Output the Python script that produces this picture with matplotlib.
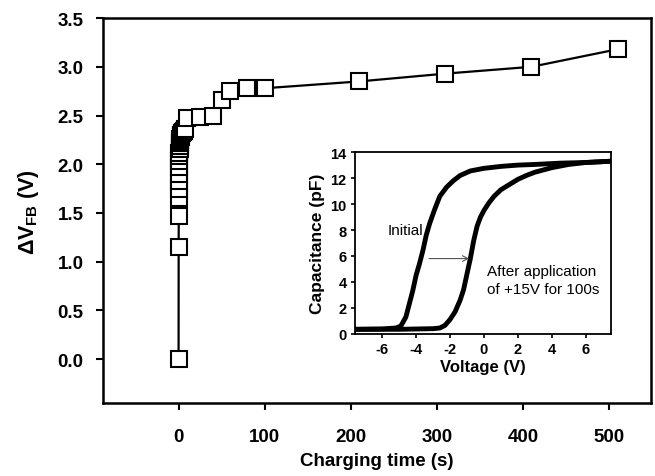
import matplotlib
matplotlib.use("Agg")
import matplotlib.pyplot as plt

plt.rcParams['font.family'] = ['Liberation Sans', 'DejaVu Sans']
plt.rcParams['font.weight'] = 'bold'
plt.rcParams['axes.unicode_minus'] = False
plt.rcParams['mathtext.fontset'] = 'custom'
plt.rcParams['mathtext.rm'] = 'Liberation Sans:bold'
plt.rcParams['mathtext.bf'] = 'Liberation Sans:bold'
plt.rcParams['mathtext.it'] = 'Liberation Sans:bold'

# charging time (s) and flat-band voltage shift (V)
charge_time = [0, 0.1, 0.2, 0.3, 0.4, 0.5, 0.6, 0.7, 0.8, 0.9, 1.0, 1.2, 1.4,
               1.6, 1.8, 2, 2.5, 3, 4, 5, 6, 8, 10, 25, 40, 50, 60, 80, 100,
               210, 310, 410, 510]
delta_vfb = [0, 1.15, 1.47, 1.65, 1.75, 1.83, 1.9, 1.97, 2.03, 2.08, 2.12,
             2.16, 2.19, 2.22, 2.24, 2.26, 2.28, 2.30, 2.32, 2.33, 2.34, 2.36,
             2.47, 2.48, 2.50, 2.66, 2.75, 2.78, 2.78, 2.85, 2.93, 3.00, 3.18]

# inset C-V curves
v_init = [-7.6, -6, -5.2, -4.9, -4.6, -4.4, -4.2, -4.0, -3.8, -3.6, -3.4, -3.2,
          -2.9, -2.6, -2.2, -1.8, -1.4, -0.8, 0, 1, 2, 3, 4.5, 6, 7.5]
c_init = [0.35, 0.38, 0.45, 0.6, 1.3, 2.3, 3.3, 4.5, 5.4, 6.4, 7.6, 8.5,
          9.6, 10.6, 11.3, 11.8, 12.2, 12.55, 12.75, 12.9, 13.0, 13.05, 13.15,
          13.2, 13.3]
v_after = [-7.6, -5, -3, -2.6, -2.3, -2.0, -1.7, -1.4, -1.2, -1.0, -0.8, -0.6,
           -0.4, -0.2, 0, 0.3, 0.6, 1.0, 1.5, 2, 2.5, 3, 4, 5, 6, 7.5]
c_after = [0.35, 0.35, 0.4, 0.45, 0.65, 1.1, 1.7, 2.6, 3.4, 4.6, 5.8, 7.2,
           8.3, 9.0, 9.5, 10.1, 10.6, 11.1, 11.5, 11.9, 12.2, 12.45, 12.8,
           13.05, 13.2, 13.3]

fig = plt.figure(figsize=(6.55, 4.77), dpi=100)
ax = fig.add_axes([0.157, 0.153, 0.837, 0.807])
ax.plot(charge_time, delta_vfb, color='black', lw=1.6, marker='s', ms=12,
        mfc='white', mec='black', mew=1.5)
ax.set_xlim(-88, 549)
ax.set_ylim(-0.45, 3.5)
ax.set_xticks([0, 100, 200, 300, 400, 500])
ax.set_yticks([0, 0.5, 1.0, 1.5, 2.0, 2.5, 3.0, 3.5])
ax.set_yticklabels(['0.0', '0.5', '1.0', '1.5', '2.0', '2.5', '3.0', '3.5'])
ax.tick_params(direction='out', length=5, width=1.5, labelsize=13.5, pad=9)
ax.tick_params(axis='x', pad=13)
for s in ax.spines.values():
    s.set_linewidth(1.8)
ax.set_xlabel('Charging time (s)', fontsize=13.5, fontweight='bold', labelpad=5)
ax.set_ylabel(r'$\Delta V_{FB}$ (V)', fontsize=15.5, fontweight='bold', labelpad=12)

ins = fig.add_axes([0.542, 0.298, 0.391, 0.381])
ins.plot(v_init, c_init, color='black', lw=3.5)
ins.plot(v_after, c_after, color='black', lw=3.5)
ins.set_xlim(-7.6, 7.5)
ins.set_ylim(0, 14)
ins.set_xticks([-6, -4, -2, 0, 2, 4, 6])
ins.set_yticks([0, 2, 4, 6, 8, 10, 12, 14])
ins.tick_params(direction='out', length=3, width=1.2, labelsize=10.5, pad=3)
for s in ins.spines.values():
    s.set_linewidth(1.3)
ins.set_xlabel('Voltage (V)', fontsize=12, fontweight='bold', labelpad=2)
ins.set_ylabel('Capacitance (pF)', fontsize=12.5, fontweight='bold', labelpad=4)
ins.annotate('', xy=(-0.7, 5.8), xytext=(-3.4, 5.8),
             arrowprops=dict(arrowstyle='->', color='#555555', lw=0.8))
ins.text(-4.6, 8.0, 'Initial', fontsize=11, fontweight='normal',
         ha='center', va='center')
ins.text(0.2, 4.15, 'After application\nof +15V for 100s', fontsize=11,
         fontweight='normal', ha='left', va='center', linespacing=1.3)

fig.savefig('out.png', dpi=100)
